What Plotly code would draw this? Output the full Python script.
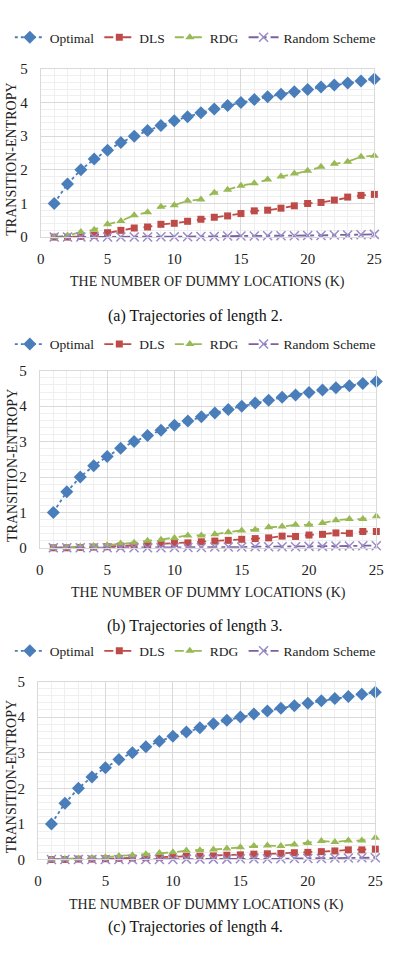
import plotly.graph_objects as go

K = list(range(1, 26))

optimal = [1.0, 1.58, 2.0, 2.32, 2.58, 2.81, 3.0, 3.17, 3.32, 3.46, 3.58, 3.70, 3.81, 3.91,
           4.0, 4.09, 4.17, 4.25, 4.32, 4.39, 4.46, 4.52, 4.58, 4.64, 4.70]

dls_a = [0.0, 0.0, 0.02, 0.05, 0.13, 0.2, 0.27, 0.3, 0.38, 0.41, 0.47, 0.53, 0.59, 0.63,
         0.7, 0.78, 0.8, 0.86, 0.93, 1.0, 1.03, 1.1, 1.19, 1.24, 1.27]
rdg_a = [0.0, 0.05, 0.15, 0.22, 0.38, 0.48, 0.65, 0.74, 0.9, 0.95, 1.08, 1.12, 1.32, 1.41,
         1.53, 1.6, 1.71, 1.8, 1.89, 1.97, 2.09, 2.18, 2.24, 2.39, 2.42]
rnd_a = [0.0, 0.0, 0.0, 0.0, 0.0, 0.0, 0.0, 0.0, 0.01, 0.01, 0.01, 0.02, 0.02, 0.03,
         0.03, 0.03, 0.04, 0.04, 0.04, 0.05, 0.05, 0.06, 0.06, 0.07, 0.08]

dls_b = [0.0, 0.0, 0.01, 0.02, 0.03, 0.05, 0.07, 0.09, 0.12, 0.12, 0.14, 0.17, 0.19, 0.21,
         0.24, 0.26, 0.28, 0.33, 0.32, 0.36, 0.38, 0.42, 0.41, 0.46, 0.46]
rdg_b = [0.0, 0.01, 0.03, 0.05, 0.07, 0.12, 0.14, 0.2, 0.23, 0.28, 0.35, 0.35, 0.38, 0.44,
         0.49, 0.51, 0.58, 0.6, 0.65, 0.65, 0.7, 0.78, 0.81, 0.81, 0.89]
rnd_b = [0.0, 0.0, 0.0, 0.0, 0.0, 0.0, 0.0, 0.0, 0.0, 0.01, 0.01, 0.01, 0.02, 0.02,
         0.02, 0.03, 0.03, 0.03, 0.03, 0.04, 0.04, 0.05, 0.05, 0.06, 0.06]

dls_c = [0.0, 0.0, 0.01, 0.01, 0.02, 0.03, 0.04, 0.05, 0.06, 0.08, 0.09, 0.09, 0.1, 0.12,
         0.13, 0.15, 0.16, 0.17, 0.19, 0.2, 0.22, 0.24, 0.27, 0.27, 0.29]
rdg_c = [0.0, 0.01, 0.02, 0.04, 0.06, 0.1, 0.12, 0.15, 0.18, 0.2, 0.25, 0.26, 0.28, 0.31,
         0.34, 0.38, 0.39, 0.38, 0.42, 0.46, 0.52, 0.49, 0.53, 0.53, 0.61]
rnd_c = [0.0, 0.0, 0.0, 0.0, 0.0, 0.0, 0.0, 0.0, 0.0, 0.0, 0.01, 0.01, 0.01, 0.01,
         0.02, 0.02, 0.02, 0.02, 0.03, 0.03, 0.03, 0.04, 0.04, 0.05, 0.05]

series_names = ["Optimal", "DLS", "RDG", "Random Scheme"]
captions = ["(a) Trajectories of length 2.", "(b) Trajectories of length 3.",
            "(c) Trajectories of length 4."]
panels = [
    [optimal, dls_a, rdg_a, rnd_a],
    [optimal, dls_b, rdg_b, rnd_b],
    [optimal, dls_c, rdg_c, rnd_c],
]

W, H = 394, 954
FONT = "Liberation Serif"

styles = [
    dict(color="#4A7EBB", dash="dot", symbol="diamond", size=10),
    dict(color="#BE4B48", dash="dash", symbol="square", size=7),
    dict(color="#98B954", dash="dash", symbol="triangle-up", size=8),
    dict(color="#7D60A0", dash="10px,4px,4px,4px", symbol="x-thin-open", size=9),
]

# pixel layout of each panel: (plot top, plot bottom, x left, x right, legend y)
geo = [
    (62, 233, 38, 382, 30),
    (369, 549, 37, 384, 342),
    (685, 866, 35, 383, 654),
]

def py(px):
    return 1 - px / H

def pxx(px):
    return px / W

fig = go.Figure()
layout = dict(
    width=W, height=H, margin=dict(l=0, r=0, t=0, b=0),
    paper_bgcolor="white", plot_bgcolor="white",
    font=dict(family=FONT, size=14, color="#222222"),
    annotations=[],
)

for i, (data, cap, (top, bot, xl, xr, ly)) in enumerate(zip(panels, captions, geo)):
    n = "" if i == 0 else str(i + 1)
    xa, ya = "x" + n, "y" + n
    lg = "legend" + n
    for j, (name, vals, st) in enumerate(zip(series_names, data, styles)):
        if st["symbol"] == "x-thin-open":
            marker = dict(symbol=st["symbol"], size=st["size"],
                          line=dict(color="#9A8BC8", width=1.5), color="#9A8BC8")
        else:
            marker = dict(symbol=st["symbol"], size=st["size"], color=st["color"])
        fig.add_trace(go.Scatter(
            x=K, y=vals, name=name, mode="lines+markers",
            line=dict(color=st["color"], dash=st["dash"], width=1.8),
            marker=marker, xaxis=xa, yaxis=ya, legend=lg, cliponaxis=False,
        ))
    axis_common = dict(
        showgrid=True, gridcolor="#d9d9d9", gridwidth=1,
        showline=True, linecolor="#d9d9d9", mirror=True, zeroline=False,
        ticks="", tickfont=dict(family=FONT, size=15, color="#222222"),
    )
    layout["xaxis" + n] = dict(
        axis_common, domain=[pxx(xl), pxx(xr)], range=[0, 25], dtick=5, tick0=0,
        anchor=ya, ticklabelstandoff=8,
        minor=dict(dtick=1, showgrid=True, gridcolor="#efefef"),
    )
    layout["yaxis" + n] = dict(
        axis_common, domain=[py(bot), py(top)], range=[0, 5], dtick=1,
        anchor=xa, ticklabelstandoff=9,
        minor=dict(dtick=0.2, showgrid=True, gridcolor="#efefef"),
    )
    layout[lg] = dict(
        orientation="h", x=pxx(6), xanchor="left", y=py(ly), yanchor="middle",
        font=dict(family=FONT, size=13.5, color="#222222"), bgcolor="rgba(0,0,0,0)",
        itemwidth=30, tracegroupgap=0,
    )
    layout["annotations"] += [
        dict(text="THE NUMBER OF DUMMY LOCATIONS (K)", xref="paper", yref="paper",
             x=pxx((xl + xr) / 2), y=py(bot + 46), showarrow=False,
             xanchor="center", yanchor="middle",
             font=dict(family=FONT, size=14, color="#222222")),
        dict(text="TRANSITION-ENTROPY", xref="paper", yref="paper", textangle=-90,
             x=pxx(8), y=py((top + bot) / 2 + 6), showarrow=False,
             xanchor="center", yanchor="middle",
             font=dict(family=FONT, size=14, color="#222222")),
        dict(text=cap, xref="paper", yref="paper",
             x=0.5, y=py(bot + (80 if i < 2 else 69)), showarrow=False,
             xanchor="center", yanchor="middle",
             font=dict(family=FONT, size=16, color="#111111")),
    ]

fig.update_layout(**layout)
fig.write_html("out.html")
